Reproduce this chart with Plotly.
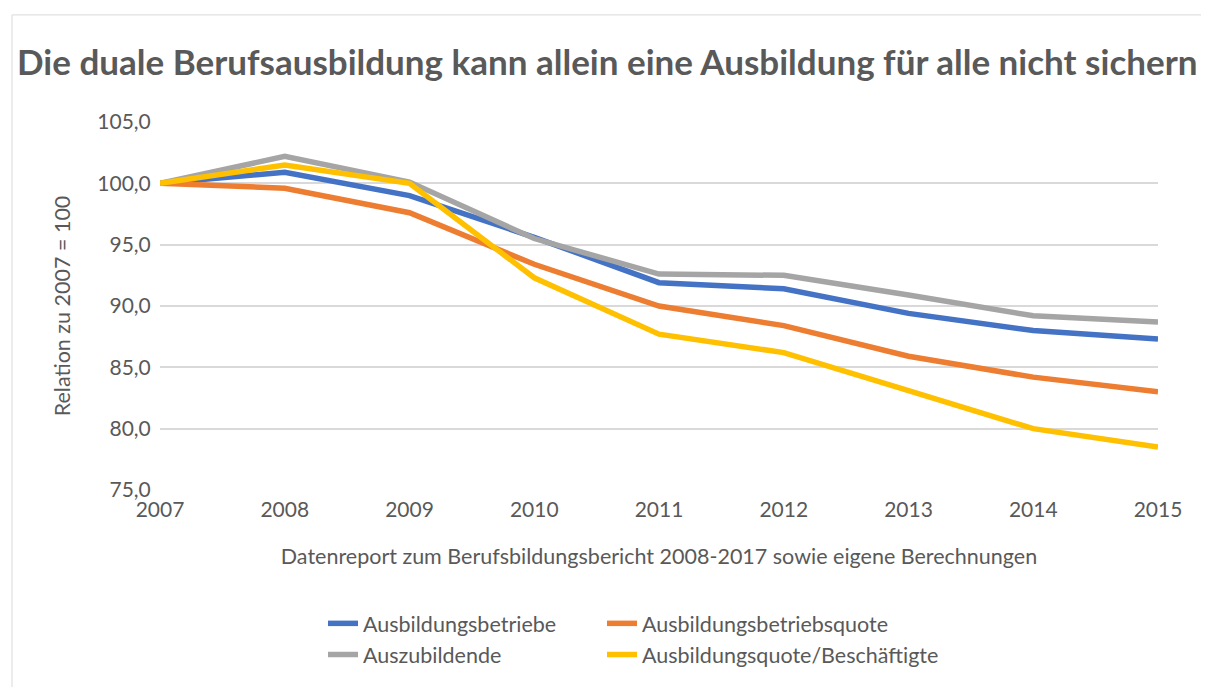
import plotly.graph_objects as go

years = [2007, 2008, 2009, 2010, 2011, 2012, 2013, 2014, 2015]
ausbildungsbetriebe = [100.0, 100.9, 99.0, 95.6, 91.9, 91.4, 89.4, 88.0, 87.3]
ausbildungsbetriebsquote = [100.0, 99.6, 97.6, 93.4, 90.0, 88.4, 85.9, 84.2, 83.0]
auszubildende = [100.0, 102.2, 100.1, 95.5, 92.6, 92.5, 90.9, 89.2, 88.7]
ausbildungsquote_besch = [100.0, 101.5, 100.0, 92.3, 87.7, 86.2, 83.1, 80.0, 78.5]

y_ticks = [75, 80, 85, 90, 95, 100, 105]

title_text = "Die duale Berufsausbildung kann allein eine Ausbildung für alle nicht sichern"
y_title = "Relation zu 2007 = 100"
x_title = "Datenreport zum Berufsbildungsbericht 2008-2017 sowie eigene Berechnungen"

names = ["Ausbildungsbetriebe", "Ausbildungsbetriebsquote",
         "Auszubildende", "Ausbildungsquote/Beschäftigte"]
values = [ausbildungsbetriebe, ausbildungsbetriebsquote,
          auszubildende, ausbildungsquote_besch]
colors = ["#4472C4", "#ED7D31", "#A5A5A5", "#FFC000"]
legend_ids = ["legend", "legend2", "legend3", "legend4"]

grey_text = "#595959"
FONT = "Lato, 'DejaVu Sans', sans-serif"

# page has an 8px body margin; work in screen coords and convert
OFF = 8
W, H = 1209 - OFF, 687 - OFF
plot_left, plot_right, plot_top, plot_bottom = 160, 1158, 122, 500
L = plot_left - OFF
T = plot_top - OFF
R = W - (plot_right - OFF)
B = H - (plot_bottom - OFF)
pw = W - L - R
ph = H - T - B


def px_x(sx):
    return (sx - OFF - L) / pw


def px_y(sy):
    return (H - B - (sy - OFF)) / ph


fig = go.Figure()
for name, vals, color, leg in zip(names, values, colors, legend_ids):
    fig.add_trace(go.Scatter(
        x=years, y=vals, name=name, mode="lines",
        line=dict(color=color, width=5.5),
        legend=leg,
    ))

# legend positions (screen px of text start / row centre)
legend_pos = [(323, 637), (602, 637), (323, 669), (602, 669)]
legend_layout = {}
for leg, (sx, sy) in zip(legend_ids, legend_pos):
    legend_layout[leg] = dict(
        orientation="h",
        font=dict(family=FONT, size=21.5, color=grey_text),
        xanchor="left", yanchor="middle",
        x=px_x(sx), y=px_y(sy),
        bgcolor="rgba(0,0,0,0)",
    )

fig.update_layout(
    width=W, height=H,
    margin=dict(l=L, r=R, t=T, b=B),
    paper_bgcolor="white", plot_bgcolor="white",
    separators=",.",
    font=dict(family=FONT, color=grey_text),
    title=dict(
        text=f"<b>{title_text}</b>",
        font=dict(family=FONT, size=35, color=grey_text),
        x=(17 - OFF) / W, xanchor="left", xref="container",
        y=1 - (63 - OFF) / H, yanchor="middle", yref="container",
    ),
    xaxis=dict(
        range=[2007, 2015],
        tickvals=years,
        ticktext=[str(y) for y in years],
        showgrid=False, zeroline=False, showline=False,
        tickfont=dict(family=FONT, size=21, color=grey_text),
        ticks="outside", ticklen=1, tickcolor="rgba(0,0,0,0)",
        title=dict(text=x_title, font=dict(family=FONT, size=21.5, color=grey_text), standoff=28),
    ),
    yaxis=dict(
        range=[75, 105],
        tickvals=y_ticks,
        tickformat=".1f",
        showgrid=True, gridcolor="#D9D9D9", gridwidth=1.5,
        zeroline=False, showline=False,
        tickfont=dict(family=FONT, size=21, color=grey_text),
        ticks="outside", ticklen=4, tickcolor="rgba(0,0,0,0)",
        title=dict(text=y_title, font=dict(family=FONT, size=21.5, color=grey_text), standoff=20),
    ),
    showlegend=True,
    **legend_layout,
)

# chart-area frame (light grey border as in the reference)
fig.add_shape(
    type="rect", xref="paper", yref="paper",
    x0=px_x(12), x1=px_x(1240),
    y0=px_y(720), y1=px_y(12),
    line=dict(color="#D9D9D9", width=1), fillcolor="rgba(0,0,0,0)",
    layer="below",
)

fig.write_html("out.html")
